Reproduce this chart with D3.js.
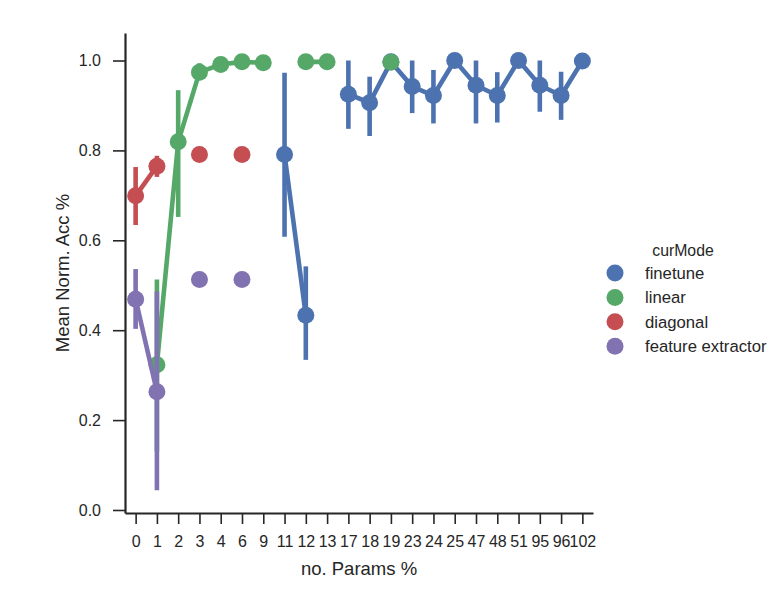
<!DOCTYPE html>
<html>
<head>
<meta charset="utf-8">
<script src="https://cdn.jsdelivr.net/npm/d3@7"></script>
<style>
  body { margin: 0; background: #fff; }
  svg text { font-family: "Liberation Sans", Arial, sans-serif; fill: #262626; }
</style>
</head>
<body>
<div id="chart"></div>
<script>
// Point plot - mean normalised accuracy vs. percentage of params, by mode

const categories = ['0', '1', '2', '3', '4', '6', '9', '11', '12', '13', '17', '18', '19',
    '23', '24', '25', '47', '48', '51', '95', '96', '102'];

const modes = ['finetune', 'linear', 'diagonal', 'feature extractor'];
const modeColors = ['#4C72B0', '#55A868', '#C44E52', '#8172B2'];

// mean values per category (null = no data)
const finetuneMean = [null, null, null, null, null, null, null, 0.791, 0.433, null, 0.925, 0.906, 0.997,
    0.942, 0.922, 1.0, 0.945, 0.922, 1.0, 0.945, 0.922, 0.999];
const finetuneLow = [null, null, null, null, null, null, null, 0.608, 0.334, null, 0.848, 0.832, null,
    0.883, 0.860, null, 0.860, 0.862, null, 0.886, 0.868, null];
const finetuneHigh = [null, null, null, null, null, null, null, 0.973, 0.542, null, 1.0, 0.964, null,
    1.0, 0.979, null, 1.0, 0.974, null, 1.0, 0.975, null];

const linearMean = [null, 0.323, 0.819, 0.974, 0.991, 0.997, 0.995, null, 0.997, 0.997, null, null, 0.996,
    null, null, null, null, null, null, null, null, null];
const linearLow = [null, 0.13, 0.652, 0.956, null, null, null, null, null, null, null, null, null,
    null, null, null, null, null, null, null, null, null];
const linearHigh = [null, 0.513, 0.934, 0.994, null, null, null, null, null, null, null, null, null,
    null, null, null, null, null, null, null, null, null];

const diagonalMean = [0.699, 0.765, null, 0.791, null, 0.791, null, null, null, null, null, null, null,
    null, null, null, null, null, null, null, null, null];
const diagonalLow = [0.634, 0.741, null, null, null, null, null, null, null, null, null, null, null,
    null, null, null, null, null, null, null, null, null];
const diagonalHigh = [0.763, 0.788, null, null, null, null, null, null, null, null, null, null, null,
    null, null, null, null, null, null, null, null, null];

const extractorMean = [0.469, 0.263, null, 0.513, null, 0.513, null, null, null, null, null, null, null,
    null, null, null, null, null, null, null, null, null];
const extractorLow = [0.403, 0.044, null, null, null, null, null, null, null, null, null, null, null,
    null, null, null, null, null, null, null, null, null];
const extractorHigh = [0.536, 0.486, null, null, null, null, null, null, null, null, null, null, null,
    null, null, null, null, null, null, null, null, null];

const yTicks = [0.0, 0.2, 0.4, 0.6, 0.8, 1.0];

const series = [
    {mean: finetuneMean, low: finetuneLow, high: finetuneHigh},
    {mean: linearMean, low: linearLow, high: linearHigh},
    {mean: diagonalMean, low: diagonalLow, high: diagonalHigh},
    {mean: extractorMean, low: extractorLow, high: extractorHigh}
].map((s, i) => ({
    name: modes[i],
    color: modeColors[i],
    points: categories.map((c, j) => ({cat: c, v: s.mean[j], lo: s.low[j], hi: s.high[j]}))
}));

const width = 782, height = 600;
const plotLeft = 125, plotRight = 593, plotTop = 33, plotBottom = 513;

const svg = d3.select('#chart').append('svg')
    .attr('width', width)
    .attr('height', height);

const x = d3.scalePoint()
    .domain(categories)
    .range([plotLeft, plotRight])
    .padding(0.5);

const y = d3.scaleLinear()
    .domain([-0.0067, 1.0612])
    .range([plotBottom, plotTop]);

// axes
const xAxis = svg.append('g')
    .attr('transform', `translate(0,${plotBottom})`)
    .call(d3.axisBottom(x).tickSizeInner(11).tickSizeOuter(0).tickPadding(12));

const yAxis = svg.append('g')
    .attr('transform', `translate(${plotLeft},0)`)
    .call(d3.axisLeft(y).tickValues(yTicks).tickFormat(d3.format('.1f'))
        .tickSizeInner(12).tickSizeOuter(0).tickPadding(12));

[xAxis, yAxis].forEach(ax => {
    ax.select('.domain').attr('stroke', '#262626').attr('stroke-width', 2.2);
    ax.selectAll('.tick line').attr('stroke', '#262626').attr('stroke-width', 1.6);
    ax.selectAll('.tick text').style('font-size', '16px').attr('fill', '#262626');
});

// draw series: lines, confidence bars, points
series.forEach(s => {
    const line = d3.line()
        .defined(d => d.v !== null)
        .x(d => x(d.cat))
        .y(d => y(d.v));

    const g = svg.append('g');

    g.append('path')
        .datum(s.points)
        .attr('d', line)
        .attr('fill', 'none')
        .attr('stroke', s.color)
        .attr('stroke-width', 4.6);

    g.selectAll('.ci')
        .data(s.points.filter(d => d.lo !== null))
        .enter()
        .append('line')
        .attr('class', 'ci')
        .attr('x1', d => x(d.cat))
        .attr('x2', d => x(d.cat))
        .attr('y1', d => y(d.lo))
        .attr('y2', d => y(d.hi))
        .attr('stroke', s.color)
        .attr('stroke-width', 4.6);

    g.selectAll('.pt')
        .data(s.points.filter(d => d.v !== null))
        .enter()
        .append('circle')
        .attr('class', 'pt')
        .attr('cx', d => x(d.cat))
        .attr('cy', d => y(d.v))
        .attr('r', 8.5)
        .attr('fill', s.color);
});

// axis labels
svg.append('text')
    .attr('x', (plotLeft + plotRight) / 2)
    .attr('y', 575)
    .attr('text-anchor', 'middle')
    .style('font-size', '18.5px')
    .text('no. Params %');

svg.append('text')
    .attr('transform', `translate(68.5,${(plotTop + plotBottom) / 2}) rotate(-90)`)
    .attr('text-anchor', 'middle')
    .style('font-size', '18.5px')
    .text('Mean Norm. Acc %');

// legend
const legend = svg.append('g')
    .attr('transform', 'translate(615,273)');

legend.append('text')
    .attr('x', 68)
    .attr('y', -17)
    .attr('text-anchor', 'middle')
    .style('font-size', '15.8px')
    .text('curMode');

legend.selectAll('circle')
    .data(series)
    .enter()
    .append('circle')
    .attr('cx', 0)
    .attr('cy', (d, i) => i * 24.4)
    .attr('r', 8.5)
    .attr('fill', d => d.color);

legend.selectAll('.lbl')
    .data(series)
    .enter()
    .append('text')
    .attr('class', 'lbl')
    .attr('x', 30)
    .attr('y', (d, i) => i * 24.4 + 6)
    .style('font-size', '16.7px')
    .text(d => d.name);
</script>
</body>
</html>
